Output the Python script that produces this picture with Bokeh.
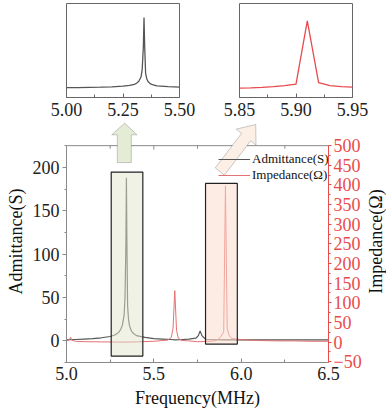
import math
from bokeh.plotting import figure
from bokeh.models import (Range1d, LinearAxis, FixedTicker, SingleIntervalTicker,
                          NumeralTickFormatter, Legend, LegendItem, PolyAnnotation, Span)
from bokeh.core.properties import value
from bokeh.layouts import column, row
from bokeh.embed import file_html
from bokeh.resources import INLINE

# ---------------- data ----------------
adm_freq = [5.00, 5.05, 5.10, 5.15, 5.20, 5.25, 5.28, 5.30, 5.31, 5.32, 5.33, 5.335,
            5.34, 5.343, 5.346, 5.35, 5.355, 5.36, 5.37, 5.38, 5.40, 5.45, 5.50,
            5.55, 5.60, 5.62, 5.65, 5.70, 5.74, 5.755, 5.765, 5.775, 5.79, 5.80,
            5.85, 5.90, 6.00, 6.10, 6.20, 6.30, 6.40, 6.50]
adm_val = [1.0, 1.5, 2.0, 2.5, 3.5, 5.0, 7.0, 10.0, 13.0, 18.0, 30.0, 50.0,
           110.0, 188.0, 110.0, 40.0, 25.0, 18.0, 12.0, 9.0, 6.0, 4.0, 2.5,
           2.0, 1.5, 1.0, 1.2, 2.0, 3.0, 6.0, 11.5, 6.0, 3.0, 1.5,
           1.2, 1.0, 1.0, 1.0, 1.0, 1.0, 1.0, 1.0]

imp_freq = [5.00, 5.015, 5.024, 5.03, 5.05, 5.10, 5.20, 5.30, 5.34, 5.40, 5.50,
            5.58, 5.60, 5.61, 5.62, 5.63, 5.64, 5.66, 5.70, 5.75, 5.77, 5.80,
            5.85, 5.86, 5.87, 5.88, 5.89, 5.90, 5.91, 5.92, 5.93, 5.94, 5.95,
            6.00, 6.10, 6.20, 6.30, 6.40, 6.50]
imp_val = [3.0, 5.0, 12.0, 5.0, 2.0, 1.0, 0.5, 0.0, 0.0, 0.5, 2.0,
           5.0, 12.0, 35.0, 131.0, 30.0, 10.0, 4.0, 3.0, 1.0, 1.0, 2.0,
           3.0, 5.0, 8.0, 12.0, 18.0, 26.0, 398.0, 35.0, 18.0, 12.0, 9.0,
           6.0, 4.0, 3.0, 3.0, 2.0, 2.0]

series_names = ["Admittance(S)", "Impedance(\u03a9)"]
x_axis_title = "Frequency(MHz)"
inset1_ticks = [5.00, 5.25, 5.50]
inset2_ticks = [5.85, 5.90, 5.95]
main_x_ticks = [5.0, 5.5, 6.0, 6.5]
main_x_minor = [5.25, 5.75, 6.25]
left_bounds = (-25, 225)
right_bounds = (-52, 500)

# highlight boxes (MHz, left-axis units)
box_left = [5.256, 5.796]
box_right = [5.437, 5.978]
box_bottom = [-17.6, -3.8]
box_top = [194.5, 181.5]
box_fill = ["#dfe6cb", "#fbd9c9"]

FONT = "Liberation Serif"
RED_AX = "#ea4b4b"
RED_LINE = "#e47272"
RED_INSET = "#e84a4c"
GRAY = "#555555"
AXC = "#8a8a8a"

# extra room above the main frame (left-axis units) for the arrows
TOP_PAD = 29.0
left_end = left_bounds[1] + TOP_PAD
right_end = right_bounds[1] + TOP_PAD * (right_bounds[1] - right_bounds[0]) / (left_bounds[1] - left_bounds[0])

MAIN_H = 298
MAIN_BOTTOM = 56


def style_inset(f, ticks):
    f.outline_line_color = "#666666"
    f.outline_line_width = 1
    f.xgrid.visible = False
    f.ygrid.visible = False
    f.yaxis.visible = False
    ax = f.xaxis[0]
    ax.ticker = FixedTicker(ticks=ticks,
                            minor_ticks=[(ticks[0] + ticks[1]) / 2, (ticks[1] + ticks[2]) / 2])
    ax.formatter = NumeralTickFormatter(format="0.00")
    ax.major_label_text_font = FONT
    ax.major_label_text_font_size = "18px"
    ax.major_label_text_color = "#222222"
    ax.axis_line_color = "#666666"
    ax.major_tick_line_color = "#666666"
    ax.minor_tick_line_color = "#666666"
    ax.major_tick_in = 4
    ax.major_tick_out = 0
    ax.minor_tick_in = 3
    ax.minor_tick_out = 0
    ax.major_label_standoff = 5


# ---------------- insets ----------------
ins1 = figure(width=209, height=120, output_backend="svg", toolbar_location=None,
              x_range=Range1d(5.0, 5.5), y_range=Range1d(*left_bounds),
              min_border_left=66, min_border_right=30, min_border_top=3, min_border_bottom=23)
ins1.line(adm_freq, adm_val, line_color=GRAY, line_width=1.3)
style_inset(ins1, inset1_ticks)

ins2 = figure(width=163, height=120, output_backend="svg", toolbar_location=None,
              x_range=Range1d(5.85, 5.95), y_range=Range1d(*right_bounds),
              min_border_left=30, min_border_right=20, min_border_top=3, min_border_bottom=23)
ins2.line(imp_freq, imp_val, line_color=RED_INSET, line_width=1.3)
style_inset(ins2, inset2_ticks)

# ---------------- main ----------------
p = figure(width=364, height=MAIN_H, output_backend="svg", toolbar_location=None,
           x_range=Range1d(5.0, 6.5), y_range=Range1d(left_bounds[0], left_end),
           min_border_left=66, min_border_right=0, min_border_top=0,
           min_border_bottom=MAIN_BOTTOM)
p.extra_y_ranges = {"imp": Range1d(right_bounds[0], right_end)}
p.xgrid.visible = False
p.ygrid.visible = False
p.outline_line_color = None

r_adm = p.line(adm_freq, adm_val, line_color=GRAY, line_width=1.2)
r_imp = p.line(imp_freq, imp_val, line_color=RED_LINE, line_width=1.0, y_range_name="imp")

p.quad(left=box_left, right=box_right, bottom=box_bottom, top=box_top,
       fill_color=box_fill, fill_alpha=0.5, line_color="#222222", line_width=1.2)

# top frame line with inward ticks
p.add_layout(Span(location=left_bounds[1], dimension="width", line_color=AXC, line_width=1))
tick_len = 4.5
p.segment(x0=main_x_ticks + main_x_minor, y0=[left_bounds[1]] * 7,
          x1=main_x_ticks + main_x_minor, y1=[left_bounds[1] - tick_len] * 4 + [left_bounds[1] - 3.5] * 3,
          line_color=AXC, line_width=1)

# arrows (decoration)
p.add_layout(PolyAnnotation(
    xs=[5.291, 5.291, 5.259, 5.333, 5.404, 5.371, 5.371],
    ys=[205.5, 237.5, 237.5, 251.0, 237.5, 237.5, 205.5],
    fill_color="#e4ecd6", fill_alpha=1, line_color="#555555", line_width=1))
p.add_layout(PolyAnnotation(
    xs=[5.8517, 6.0022, 5.9717, 6.0833, 6.0850, 6.0544, 5.9039],
    ys=[199.4, 239.1, 244.1, 249.4, 225.6, 230.6, 190.9],
    fill_color="#fbefe6", fill_alpha=1, line_color="#555555", line_width=1))

# bottom axis
xa = p.xaxis[0]
xa.ticker = FixedTicker(ticks=main_x_ticks, minor_ticks=main_x_minor)
xa.formatter = NumeralTickFormatter(format="0.0")
xa.axis_label = x_axis_title

# left axis
ya = p.yaxis[0]
ya.ticker = SingleIntervalTicker(interval=50, num_minor_ticks=2)
ya.axis_label = series_names[0]
ya.bounds = left_bounds

# right axis (title drawn in a side strip so it reads bottom-to-top)
ra = LinearAxis(y_range_name="imp",
                ticker=SingleIntervalTicker(interval=50, num_minor_ticks=2),
                bounds=right_bounds)
p.add_layout(ra, "right")

for ax in [xa, ya, ra]:
    ax.major_label_text_font = FONT
    ax.major_label_text_font_size = "18px"
    ax.major_label_text_color = "#222222"
    ax.axis_label_text_font = FONT
    ax.axis_label_text_font_size = "18px"
    ax.axis_label_text_font_style = "normal"
    ax.axis_label_text_color = "#111111"
    ax.axis_line_color = AXC
    ax.major_tick_line_color = AXC
    ax.minor_tick_line_color = AXC
    ax.major_label_standoff = 3
    ax.axis_label_standoff = 4

xa.major_tick_in = 4
xa.major_tick_out = 0
xa.minor_tick_in = 3
xa.minor_tick_out = 0
xa.major_label_standoff = 4
xa.axis_label_standoff = 5

ya.major_tick_in = 0
ya.major_tick_out = 4
ya.minor_tick_in = 0
ya.minor_tick_out = 2

ra.axis_line_color = RED_AX
ra.major_tick_line_color = RED_AX
ra.minor_tick_line_color = RED_AX
ra.major_label_text_color = RED_AX
ra.major_tick_in = 0
ra.major_tick_out = 3
ra.minor_tick_in = 0
ra.minor_tick_out = 2
ra.major_label_standoff = 2

legend = Legend(items=[LegendItem(label=series_names[0], renderers=[r_adm]),
                       LegendItem(label=series_names[1], renderers=[r_imp])],
                location=(152, 179), border_line_color=None, background_fill_alpha=0,
                padding=0, margin=0, spacing=0, label_height=16, glyph_height=16,
                glyph_width=32, label_standoff=2,
                label_text_font=FONT, label_text_font_size="13px", label_text_color="#111111")
p.add_layout(legend)

# side strip with the right-axis title
side = figure(width=22, height=MAIN_H, output_backend="svg", toolbar_location=None,
              x_range=Range1d(0, 1), y_range=Range1d(0, 1),
              min_border_left=0, min_border_right=0, min_border_top=0,
              min_border_bottom=MAIN_BOTTOM)
side.axis.visible = False
side.grid.visible = False
side.outline_line_color = None
side.text(x=[0.5], y=[0.5], text=[series_names[1]], angle=math.pi / 2,
          text_align="center", text_baseline="middle",
          text_font=value(FONT), text_font_size="18px", text_color="#111111")

layout = column(row(ins1, ins2), row(p, side))
open("out.html", "w").write(file_html(layout, INLINE))
